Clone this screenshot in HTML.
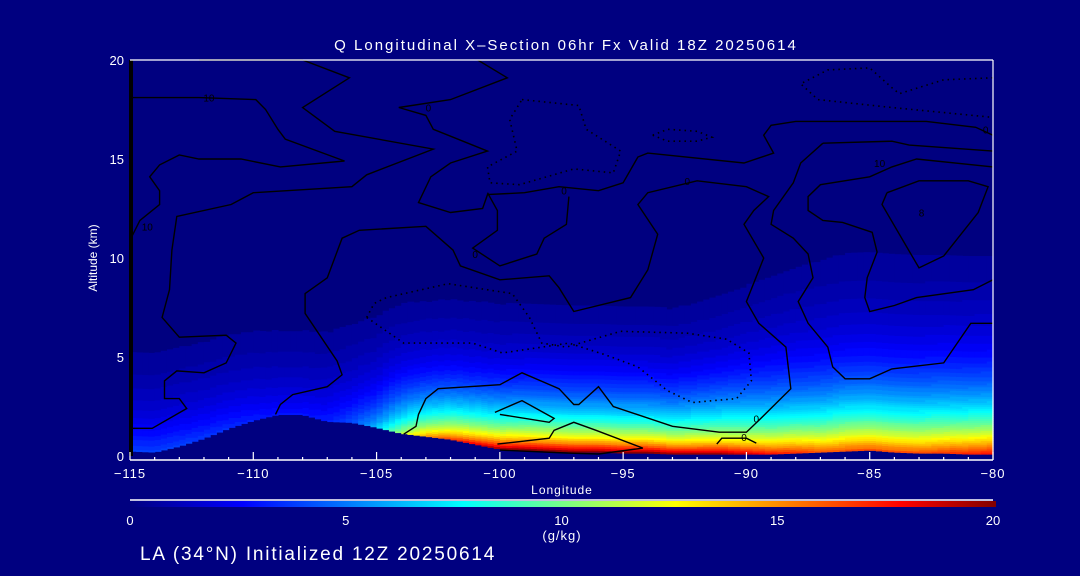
<!DOCTYPE html>
<html><head><meta charset="utf-8">
<style>
html,body{margin:0;padding:0;background:#000080;}
svg{display:block;font-family:"Liberation Sans",sans-serif;}
</style></head>
<body>
<svg id="chart" width="1080" height="576" viewBox="0 0 1080 576" xmlns="http://www.w3.org/2000/svg">
<rect x="0" y="0" width="1080" height="576" fill="#000080"/>
<text x="566" y="50" fill="#fff" font-size="15" letter-spacing="2" text-anchor="middle">Q Longitudinal X–Section 06hr  Fx Valid 18Z 20250614</text>
<g id="field"></g>
<g id="contours"></g>
<g id="axes"></g>
<text x="562" y="494" fill="#fff" font-size="12" letter-spacing="1" text-anchor="middle">Longitude</text>
<text x="0" y="0" transform="translate(97,258) rotate(-90)" fill="#fff" font-size="12" text-anchor="middle">Altitude (km)</text>
<defs>
<linearGradient id="cbgrad" x1="0" x2="1" y1="0" y2="0"></linearGradient>
</defs>
<line x1="130" y1="500" x2="993" y2="500" stroke="#fff" stroke-width="1.5"/>
<rect x="130" y="501" width="866" height="6" fill="url(#cbgrad)"/>
<g id="cbticks"></g>
<text x="562" y="540" fill="#fff" font-size="13" letter-spacing="1" text-anchor="middle">(g/kg)</text>
<text x="140" y="560" fill="#fff" font-size="19" letter-spacing="1.8">LA (34°N) Initialized 12Z 20250614</text>
</svg>
<script>
const lons = [-115,-114,-113,-112,-111,-110,-109,-108,-107,-106,-105,-104,-103,-102,-101,-100,-99,-98,-97,-96,-95,-94,-93,-92,-91,-90,-89,-88,-87,-86,-85,-84,-83,-82,-81,-80];
const terrainKm = [0.25,0.2,0.5,0.9,1.4,1.8,2.1,2.1,1.75,1.7,1.45,1.15,1.0,0.85,0.6,0.35,0.3,0.25,0.2,0.2,0.15,0.15,0.1,0.1,0.1,0.1,0.1,0.15,0.2,0.25,0.3,0.2,0.15,0.15,0.1,0.1];
const freeQ = [4,4,4,3.8,3.6,3.3,3,3,3.3,4.2,6,10,13,14.5,15.5,16.5,17,17,17,17,17,17,16.5,16.5,16.5,15.5,14.5,13.5,12,10.7,10.7,10.7,10.7,10.7,10.7,10.7];
const freeDepth = [2.6,2.6,2.6,2.6,2.6,2.6,2.6,2.6,2.6,2.5,2.4,2.3,2.2,2.2,2.2,2.2,2.2,2.2,2.2,2.2,2.2,2.2,2.2,2.3,2.4,2.6,2.8,3,3.2,3.4,3.4,3.4,3.4,3.4,3.4,3.4];
const blQ = [0,0,0,0,0,0,0,0,0,0,0.5,1,1.5,2,2.5,3,3,3,3,3,3,3,3,3,3,3,3,3.5,4,5.5,5.5,5.5,5.5,6,6.5,7];
const blDepth = [0.4,0.4,0.4,0.4,0.4,0.4,0.4,0.4,0.4,0.4,0.4,0.4,0.4,0.4,0.4,0.4,0.4,0.4,0.4,0.4,0.4,0.4,0.4,0.4,0.4,0.5,0.7,1,1.4,1.8,1.8,1.8,1.8,1.8,1.8,1.8];
const xTicks = [-115,-110,-105,-100,-95,-90,-85,-80];
const yTicks = [0,5,10,15,20];
const cbTicks = [0,5,10,15,20];
const cmapVals = [0,2.6,7.7,12.6,17.8,20];
const cmapCols = ["#000080","#0000ff","#00ffff","#ffff00","#ff0000","#800000"];

const contourA = [[-115,18.1],[-112.2,18.1],[-109.9,18],[-109.5,17.5],[-109,16.5],[-108.7,16],[-106.3,14.9],[-108.9,14.6],[-110.5,15],[-112.2,15],[-113,15.2],[-113.8,14.7],[-114.2,14.1],[-113.8,13.4],[-113.8,12.7],[-114.6,11.9],[-115,10.9]];
const contourB = [[-112.2,20],[-108,20],[-106.1,19.1],[-108,17.6],[-106.7,16.4],[-102.7,15.5],[-105.4,14.2],[-106,13.6],[-110,13.3],[-110.9,12.7],[-113.1,12.1],[-113.3,10.4],[-113.4,8.4],[-113.7,7],[-113,6],[-111.1,6.1],[-110.7,5.7],[-111.1,4.7],[-112,4.2],[-113.1,4.3],[-113.6,3.8],[-113.6,2.9],[-113,2.9],[-112.7,2.4],[-114.1,1.4],[-115,1.4]];
const contourC = [[-100.9,20],[-99.7,19.1],[-102,18],[-104.1,17.6],[-103,17.2],[-102.7,16.5],[-101.9,16.1],[-100.5,15.4],[-102,14.8],[-102.8,14.1],[-103.3,12.8],[-102,12.3],[-100.7,12.5],[-100.5,13.2],[-99,13.3],[-97.6,13.6],[-96,13.4],[-95,13.8],[-94.4,15.1],[-94,15.3],[-90.1,14.8],[-88.9,15.3],[-89.3,16.2],[-89,16.7],[-88,16.9],[-82.7,16.9],[-80.7,16.6],[-80,16.2]];
const contourD = [[-109.1,2.1],[-108.9,2.6],[-108.4,3.1],[-107,3.5],[-106.4,4.1],[-106.6,4.8],[-107.9,7.2],[-107.9,8.2],[-107,9],[-106.4,11],[-105.7,11.4],[-103,11.6],[-101.9,10.4],[-101.6,9.6],[-100,8.9],[-98,9.1],[-97.6,8.5],[-97,7.3],[-94.7,8],[-94,9.4],[-93.6,11.2],[-94.4,12.7],[-94,13.3],[-92,13.9],[-90,13.6],[-89.1,13.1],[-89.7,12.4],[-90.1,11.7],[-89.3,10],[-90,7.8],[-89.5,6.7],[-88.4,5.5],[-88.2,3.4],[-89.5,1.8],[-90,1.2],[-91.1,1.2],[-93,1.5],[-95.4,2.5],[-96,3.5],[-96.8,2.6],[-97,2.6],[-97.6,3.4],[-99.1,4.2],[-100,3.6],[-102.5,3.4],[-103,2.9],[-103.3,2.1],[-103.4,1.5],[-103.9,1.1]];
const contourE = [[-86.9,15.8],[-84.1,15.9],[-83.4,15.7],[-80,15.4]];
const contourF = [[-86.9,15.8],[-87.8,14.8],[-88.1,13.8],[-88.9,12.4],[-89,11.7],[-88.1,11],[-87.5,10.2],[-87.3,9],[-87.9,7.8],[-87.5,6.7],[-86.7,5.5],[-86.5,4.5],[-86,3.9],[-85,3.9],[-84.1,4.4],[-82,4.7],[-80.9,6.7],[-80,6.7]];
const contourG = [[-80,14.6],[-83.1,15],[-84.1,14.6],[-85,14.1],[-87,13.7],[-87.5,13.1],[-87.5,12.4],[-86.9,11.9],[-86.1,11.8],[-84.9,11.3],[-84.7,10.3],[-85.1,9],[-85.2,8],[-85,7.3],[-84,7.6],[-83.1,8],[-80.8,8.4],[-80,8.9]];
const contourH = [[-84.3,13.3],[-83,13.9],[-81,13.9],[-80.2,13.6],[-80.6,12.3],[-82,10.1],[-83,9.5],[-84.5,12.7],[-84.3,13.3]];
const contourI = [[-100.5,13.3],[-100.1,12.4],[-100.1,11.4],[-101.1,10.5],[-100,9.6],[-98.5,10.2],[-98.2,11],[-97.3,11.7],[-97.2,13.1]];
const contourJ = [[-100.1,0.6],[-98,0.9],[-97.8,1.3],[-97,1.7],[-96.1,1.3],[-94.2,0.4],[-96,0.1],[-97.3,0.15],[-100,0.3]];
const contourK = [[-100.2,2.2],[-99.1,2.8],[-97.8,1.9],[-98,1.7],[-100,2.1]];
const contourL = [[-91.2,0.6],[-91,0.9],[-90,0.9],[-89.6,0.65]];
const dottedA = [[-105.4,7],[-105.1,7.7],[-104.6,8],[-102.1,8.7],[-99.5,8.2],[-98.8,7],[-98.3,5.7],[-97.3,5.5],[-95.1,6.3],[-92.4,6.2],[-90.8,5.9],[-89.9,5.2],[-89.8,3.8],[-90.4,2.9],[-92.2,2.7],[-93.2,3.3],[-94.4,4.5],[-95.7,5.1],[-97.2,5.7],[-99.9,5.2],[-101.1,5.7],[-103.9,5.7],[-105.4,7]];
const dottedB = [[-99.1,18],[-96.8,17.7],[-96.5,16.5],[-95.1,15.4],[-95.4,14.3],[-97,14.5],[-99.2,13.7],[-100.4,13.8],[-100.5,14.6],[-99.3,15.4],[-99.6,17],[-99.1,18]];
const dottedC = [[-80,19.1],[-82,19],[-83.8,18.3],[-84.1,18.6],[-85,19.6],[-86.7,19.5],[-87.8,18.8],[-87.1,18],[-84.1,17.6],[-80,17.1]];
const dottedD = [[-93.8,16.2],[-93.2,16.5],[-92,16.4],[-91.4,16.1],[-92,15.9],[-93.2,15.9],[-93.8,16.2]];
const contourLabels = [["10",-111.8,18.1],["10",-114.3,11.6],["0",-102.9,17.6],["0",-101,10.2],["0",-97.4,13.4],["0",-92.4,13.9],["0",-90.1,0.95],["0",-89.6,1.9],["10",-84.6,14.8],["0",-80.3,16.5],["8",-82.9,12.3]];

const X0=130, X1=993, Y0=456, Y1=60;
const xs = v => X0 + (v - (-115)) / 35 * (X1 - X0);
const ys = v => Y0 - v / 20 * (Y0 - Y1);
const NS="http://www.w3.org/2000/svg";
function mk(tag, attrs, parent){const e=document.createElementNS(NS,tag);for(const k in attrs)e.setAttribute(k,attrs[k]);parent.appendChild(e);return e;}
function hex(c){return [parseInt(c.slice(1,3),16),parseInt(c.slice(3,5),16),parseInt(c.slice(5,7),16)];}
function cmap(q){
  if(q<=cmapVals[0]) return cmapCols[0];
  for(let i=1;i<cmapVals.length;i++){
    if(q<=cmapVals[i]){const t=(q-cmapVals[i-1])/(cmapVals[i]-cmapVals[i-1]);const a=hex(cmapCols[i-1]),b=hex(cmapCols[i]);
      return "rgb("+a.map((v,j)=>Math.round(v+(b[j]-v)*t)).join(",")+")";}
  }
  return cmapCols[cmapCols.length-1];
}
function interp(arr, lon){
  const f=(lon-lons[0]); let i=Math.floor(f); if(i<0)i=0; if(i>=lons.length-1) return arr[lons.length-1];
  const t=f-i; return arr[i]*(1-t)+arr[i+1]*t;
}
const gradEl=document.getElementById('cbgrad');
for(let i=0;i<cmapVals.length;i++){mk('stop',{offset:(cmapVals[i]/20*100)+'%','stop-color':cmapCols[i]},gradEl);}
const fieldG=document.getElementById('field');
const dLon=0.25, dz=0.1, step=0.3;
for(let lon=-115; lon<-80-1e-6; lon+=dLon){
  const c=lon+dLon/2;
  const ter=interp(terrainKm,c), fq=interp(freeQ,c), fh=interp(freeDepth,c), bq=interp(blQ,c), bh=interp(blDepth,c);
  let runStart=null, runBand=null;
  const flush=(zTop)=>{ if(runStart===null||runBand<0.6) return;
    const r=mk('rect',{x:xs(lon).toFixed(2),y:ys(zTop).toFixed(2),width:(xs(lon+dLon)-xs(lon)+0.6).toFixed(2),height:(ys(runStart)-ys(zTop)+0.6).toFixed(2),fill:cmap(runBand)},fieldG);
    
    
  };
  for(let z=ter; z<20; z+=dz){
    const d=z-ter;
    const q=fq*Math.exp(-d/fh)+bq*Math.exp(-d/bh);
    const band=Math.floor(q/step)*step;
    if(band!==runBand){ flush(z); runStart=z; runBand=band; }
  }
  flush(20);
}
const axG=document.getElementById('axes');
const lh=mk('line',{x1:131,y1:60,x2:131,y2:456,stroke:'#000','stroke-width':4},axG);


const cg=document.getElementById('contours');
function poly(pts,dotted,name){
  const p=mk('polyline',{points:pts.map(d=>xs(d[0]).toFixed(1)+','+ys(d[1]).toFixed(1)).join(' '),fill:'none',stroke:'#000','stroke-width':dotted?1.6:1.4},cg);
  if(dotted){p.setAttribute('stroke-dasharray','1.5 4');}
  
  
}
poly(contourA,false,'contour-line');poly(contourB,false,'contour-line');poly(contourC,false,'contour-line');
poly(contourD,false,'contour-line');poly(contourE,false,'contour-line');poly(contourF,false,'contour-line');
poly(contourG,false,'contour-line');poly(contourH,false,'contour-line');poly(contourI,false,'contour-line');
poly(contourJ,false,'contour-line');poly(contourK,false,'contour-line');poly(contourL,false,'contour-line');
poly(dottedA,true,'dotted-contour');poly(dottedB,true,'dotted-contour');poly(dottedC,true,'dotted-contour');poly(dottedD,true,'dotted-contour');
contourLabels.forEach(l=>{
  const t=mk('text',{x:xs(l[1]).toFixed(1),y:(ys(l[2])+4).toFixed(1),fill:'#000','font-size':10,'text-anchor':'middle'},cg);
  t.textContent=l[0];
  
  
});
const frameTop=mk('line',{x1:130,y1:60,x2:993,y2:60,stroke:'#fff','stroke-width':1.2},axG);


const frameRight=mk('line',{x1:993,y1:60,x2:993,y2:460,stroke:'#fff','stroke-width':1.2},axG);


const frameBottom=mk('line',{x1:130,y1:460,x2:993,y2:460,stroke:'#fff','stroke-width':1.5},axG);


for(let v=-115; v<=-80; v++){
  const major=xTicks.indexOf(v)>=0;
  const tk=mk('line',{x1:xs(v),y1:major?452:457,x2:xs(v),y2:460,stroke:'#fff','stroke-width':1.2},axG);
  
  
}
xTicks.forEach(v=>{
  const t=mk('text',{x:xs(v),y:478,fill:'#fff','font-size':13,'letter-spacing':1,'text-anchor':'middle'},axG);
  t.textContent=(v<0?'\u2212':'')+Math.abs(v);
  
  
});
yTicks.forEach(v=>{
  const t=mk('text',{x:124,y:ys(v)+5,fill:'#fff','font-size':13,'text-anchor':'end'},axG);
  t.textContent=v;
  
  
});
const cbt=document.getElementById('cbticks');
cbTicks.forEach(v=>{
  const t=mk('text',{x:130+v/20*863,y:525,fill:'#fff','font-size':13,'text-anchor':'middle'},cbt);
  t.textContent=v;
  
  
});
</script>
</body></html>
